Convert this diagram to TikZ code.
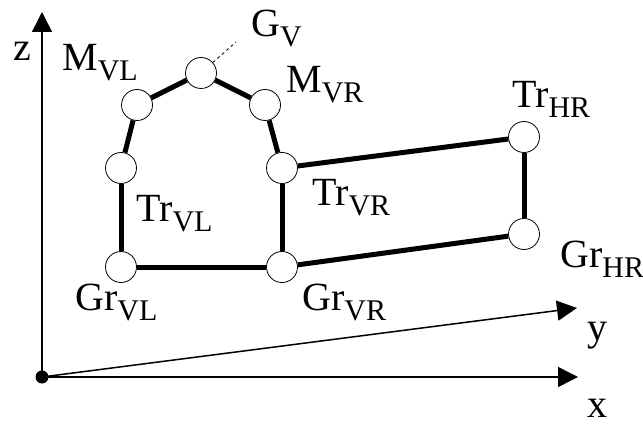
\documentclass[tikz,border=0pt]{standalone}
\usepackage{fontspec}
\setmainfont{Liberation Serif}
\usetikzlibrary{arrows.meta}
\newcommand{\lblsub}[2]{#1\raisebox{-10pt}{\fontsize{30}{30}\selectfont #2}}
\begin{document}
\begin{tikzpicture}[x=1pt,y=-1pt,
  joint/.style={circle,draw,line width=0.8pt,fill=white,minimum size=31pt,inner sep=0pt},
  bar/.style={line width=5pt},
  axis/.style={line width=1.5pt,-{Triangle[length=20pt,width=20pt]}},
  lab/.style={anchor=base west,inner sep=0pt,font=\fontsize{40}{40}\selectfont}]
\useasboundingbox (0,0) rectangle (643,425);
% axes
\node[circle,fill,minimum size=13pt,inner sep=0pt] (O) at (42,377) {};
\coordinate (zt) at (42,12);
\coordinate (xt) at (578,377);
\coordinate (yt) at (577,308);
\draw[axis] (O.center) -- (zt);
\draw[axis] (O.center) -- (xt);
\draw[axis] (O.center) -- (yt);
% joints
\node[joint] (GV) at (201,73) {};
\node[joint] (MVL) at (137,105) {};
\node[joint] (MVR) at (265,105) {};
\node[joint] (TrVL) at (121,168) {};
\node[joint] (TrVR) at (282,168) {};
\node[joint] (GrVL) at (121,267) {};
\node[joint] (GrVR) at (282,267) {};
\node[joint] (TrHR) at (524,137) {};
\node[joint] (GrHR) at (524,234) {};
% bars
\draw[bar] (GV) -- (MVL);
\draw[bar] (GV) -- (MVR);
\draw[bar] (MVL) -- (TrVL);
\draw[bar] (MVR) -- (TrVR);
\draw[bar] (TrVL) -- (GrVL);
\draw[bar] (TrVR) -- (GrVR);
\draw[bar] (GrVL) -- (GrVR);
\draw[bar] (TrVR) -- (TrHR);
\draw[bar] (GrVR) -- (GrHR);
\draw[bar] (TrHR) -- (GrHR);
% pointer to G_V
\coordinate (gvtag) at (236,42);
\draw[line width=0.8pt,dash pattern=on 3pt off 3pt] (GV) -- (gvtag);
% labels
\node[lab] (lz) at (13,61) {z};
\node[lab] (lx) at (587,417) {x};
\node[lab] (ly) at (587,340) {y};
\node[lab] (lMVL) at (62,71) {\lblsub{M}{VL}};
\node[lab] (lGV) at (251,37) {\lblsub{G}{V}};
\node[lab] (lMVR) at (286,93) {\lblsub{M}{VR}};
\node[lab] (lTrVL) at (136,222) {\lblsub{Tr}{VL}};
\node[lab] (lTrVR) at (312,205) {\lblsub{Tr}{VR}};
\node[lab] (lTrHR) at (512,108) {\lblsub{Tr}{HR}};
\node[lab] (lGrVL) at (75,310) {\lblsub{Gr}{VL}};
\node[lab] (lGrVR) at (302,310) {\lblsub{Gr}{VR}};
\node[lab] (lGrHR) at (560,267) {\lblsub{Gr}{HR}};
\end{tikzpicture}
\end{document}
